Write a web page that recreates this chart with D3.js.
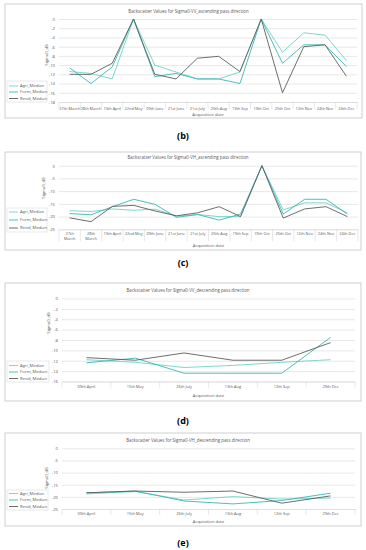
<!DOCTYPE html>
<html>
<head>
<meta charset="utf-8">
<script src="https://cdn.jsdelivr.net/npm/d3@7"></script>
<style>
  body { margin: 0; background: #fff; }
  svg { display: block; }
  text { font-family: "Open Sans", sans-serif; fill: #595959; }
</style>
</head>
<body>
<div id="figure"></div>
<script>
// Category labels
const ascDates = ["27th March", "28th March", "10th April", "22nd May", "09th June", "21st June", "21st July",
  "20th Aug", "19th Sep", "19th Oct", "25th Oct", "12th Nov", "24th Nov", "24th Dec"];
const descDates = ["09th April", "15th May", "26th July", "13th Aug", "12th Sep", "29th Dec"];

const seriesNames = ["Agri_Median", "Fores_Median", "Resid_Median"];
const seriesColors = ["#6fd3c7", "#3db6b6", "#5e5e5e"];

// (b) Sigma0-VV ascending
const vvAscAgri  = [-11.4, -11.8, -13, 0, -10, -11.5, -13, -13, -11.5, 0, -7.2, -3, -3.5, -9];
const vvAscFores = [-10.6, -14, -10.4, 0, -12.5, -11.8, -13, -13, -14, 0, -9.6, -5.6, -5.6, -10.3];
const vvAscResid = [-12, -12, -9.6, 0, -12, -13, -8.5, -8.1, -11.4, 0, -16, -6, -5.6, -12.4];

// (c) Sigma0-VH ascending
const vhAscAgri  = [-17.7, -18, -17, -17.5, -17.1, -19.8, -19.2, -20, -20, 0, -17.4, -14.6, -14.6, -18.5];
const vhAscFores = [-18.8, -19.3, -16.1, -13.2, -15.2, -20.3, -19.2, -21.4, -19, 0, -19, -13.2, -13.2, -19];
const vhAscResid = [-20.5, -22, -16, -15.6, -17.8, -19.7, -18.5, -16.1, -20, 0, -20.6, -17, -16.1, -20];

// (d) Sigma0-VV descending
const vvDescAgri  = [-11.8, -12.3, -13.3, -12.9, -12.3, -11.8];
const vvDescFores = [-12.4, -11.5, -14.4, -14.4, -14.4, -7.5];
const vvDescResid = [-11.4, -11.9, -10.5, -11.9, -11.9, -8.5];

// (e) Sigma0-VH descending
const vhDescAgri  = [-18.8, -17.8, -21.3, -19.9, -20.9, -20.5];
const vhDescFores = [-18.4, -17.6, -21.7, -22.9, -21.5, -18.5];
const vhDescResid = [-18.3, -17.6, -18.1, -17.6, -22.6, -19.6];

// y tick values
const vvAscTicks = [0, -2, -4, -6, -8, -10, -12, -14, -16, -18];
const vhTicks = [0, -5, -10, -15, -20, -25];
const vvDescTicks = [0, -2, -4, -6, -8, -10, -12, -14, -16];

// panel layout
const panels = [
  { tag: "(b)", title: "Backscatter Values for Sigma0-VV_ascending pass direction",
    dates: ascDates, series: [vvAscAgri, vvAscFores, vvAscResid], ticks: vvAscTicks,
    frame: [5, 4, 362, 118], px: [59, 357], py: [19, 102], titleY: 12, labelY: 107,
    axisTitleY: 114.5, yTitle: [47, 55], legend: [7, 81, 47, 102], legendY: [86, 92, 98.5],
    divLen: 7, tagY: 137, wrap: [] },
  { tag: "(c)", title: "Backscatter Values for Sigma0-VH_ascending pass direction",
    dates: ascDates, series: [vhAscAgri, vhAscFores, vhAscResid], ticks: vhTicks,
    frame: [5, 152, 361, 250], px: [59, 358], py: [165.7, 229.3], titleY: 158, labelY: 232,
    axisTitleY: 246, yTitle: [43.5, 188], legend: [7, 208, 47, 232], legendY: [212, 220, 228],
    divLen: 12, tagY: 264, wrap: [0, 1] },
  { tag: "(d)", title: "Backscatter Values for Sigma0-VV_descending pass direction",
    dates: descDates, series: [vvDescAgri, vvDescFores, vvDescResid], ticks: vvDescTicks,
    frame: [5, 283, 361, 401], px: [62, 355], py: [298.5, 381.5], titleY: 291, labelY: 385,
    axisTitleY: 396, yTitle: [49, 323], legend: [7, 361, 49, 382], legendY: [365.5, 372, 378.5],
    divLen: 6, tagY: 422, wrap: [] },
  { tag: "(e)", title: "Backscatter Values for Sigma0-VH_descending pass direction",
    dates: descDates, series: [vhDescAgri, vhDescFores, vhDescResid], ticks: vhTicks,
    frame: [5, 433, 361, 526], px: [62, 355], py: [448.3, 509], titleY: 441, labelY: 512.5,
    axisTitleY: 522, yTitle: [46.7, 478], legend: [7, 490, 48, 510], legendY: [493.5, 500, 506.5],
    divLen: 6, tagY: 544, wrap: [] }
];

const svg = d3.select("#figure").append("svg")
  .attr("width", 366)
  .attr("height", 550);

svg.append("rect").attr("width", 366).attr("height", 550).attr("fill", "#fff");

const fs = 4.2;
const catFs = 3.9;

panels.forEach(p => {
  const g = svg.append("g");

  // outer chart frame
  g.append("rect")
    .attr("x", p.frame[0]).attr("y", p.frame[1])
    .attr("width", p.frame[2] - p.frame[0]).attr("height", p.frame[3] - p.frame[1])
    .attr("fill", "#fff").attr("stroke", "#c3c3c3").attr("stroke-width", 0.8);

  const x = d3.scaleBand().domain(p.dates).range(p.px).padding(0);
  const y = d3.scaleLinear().domain([d3.min(p.ticks), 0]).range([p.py[1], p.py[0]]);
  const bw = x.bandwidth();

  // gridlines + y tick labels
  const yAxis = g.append("g")
    .attr("transform", `translate(${p.px[0]},0)`)
    .call(d3.axisLeft(y).tickValues(p.ticks).tickSize(-(p.px[1] - p.px[0]))
      .tickPadding(4).tickFormat(d => String(d)));
  yAxis.select(".domain").remove();
  yAxis.selectAll("line").attr("stroke", "#d9d9d9").attr("stroke-width", 0.6);
  yAxis.selectAll("text").attr("font-size", fs).attr("font-family", "Open Sans").attr("fill", "#595959");

  // category axis labels
  const xAxis = g.append("g")
    .attr("transform", `translate(0,${p.py[1]})`)
    .call(d3.axisBottom(x).tickSize(0).tickPadding(p.labelY - p.py[1]));
  xAxis.select(".domain").attr("stroke", "#d9d9d9").attr("stroke-width", 0.6);
  xAxis.selectAll("text").attr("font-size", catFs).attr("font-family", "Open Sans").attr("fill", "#595959");
  xAxis.selectAll(".tick text").each(function(d, i) {
    if (p.wrap.includes(i)) {
      const t = d3.select(this);
      const parts = d.split(" ");
      t.text(null);
      parts.forEach((w, k) => t.append("tspan").attr("x", 0).attr("dy", k === 0 ? "0.71em" : "1.3em").text(w));
      t.attr("dy", null);
    }
  });

  // category dividers
  const bounds = p.dates.map(d => x(d)).concat([x(p.dates[p.dates.length - 1]) + bw]);
  g.append("g").selectAll("line")
    .data(bounds)
    .join("line")
    .attr("x1", d => d).attr("x2", d => d)
    .attr("y1", p.py[1]).attr("y2", p.py[1] + p.divLen)
    .attr("stroke", "#d9d9d9").attr("stroke-width", 0.6);

  // series lines
  const line = d3.line()
    .x((d, i) => x(p.dates[i]) + bw / 2)
    .y(d => y(d));
  p.series.forEach((s, k) => {
    g.append("path")
      .datum(s)
      .attr("fill", "none")
      .attr("stroke", seriesColors[k])
      .attr("stroke-width", 0.9)
      .attr("stroke-linejoin", "round")
      .attr("d", line);
  });

  // chart title
  g.append("text")
    .attr("x", (p.frame[0] + p.frame[2]) / 2 + 5)
    .attr("y", p.titleY)
    .attr("text-anchor", "middle")
    .attr("dominant-baseline", "middle")
    .attr("font-size", 4.4)
    .text(p.title);

  // axis titles
  g.append("text")
    .attr("x", (p.px[0] + p.px[1]) / 2)
    .attr("y", p.axisTitleY)
    .attr("text-anchor", "middle")
    .attr("dominant-baseline", "middle")
    .attr("font-size", fs)
    .text("Acquisition date");

  g.append("text")
    .attr("transform", `translate(${p.yTitle[0]},${p.yTitle[1]}) rotate(-90)`)
    .attr("text-anchor", "middle")
    .attr("dominant-baseline", "middle")
    .attr("font-size", fs)
    .text("Sigma0_dB");

  // legend
  const lg = g.append("g");
  lg.append("rect")
    .attr("x", p.legend[0]).attr("y", p.legend[1])
    .attr("width", p.legend[2] - p.legend[0]).attr("height", p.legend[3] - p.legend[1])
    .attr("fill", "#fff").attr("stroke", "#d9d9d9").attr("stroke-width", 0.6);
  seriesNames.forEach((name, k) => {
    const ly = p.legendY[k];
    lg.append("line")
      .attr("x1", p.legend[0] + 2).attr("x2", p.legend[0] + 11)
      .attr("y1", ly).attr("y2", ly)
      .attr("stroke", seriesColors[k]).attr("stroke-width", 0.9);
    lg.append("text")
      .attr("x", p.legend[0] + 13)
      .attr("y", ly)
      .attr("dominant-baseline", "middle")
      .attr("font-size", fs)
      .text(name);
  });

  // sub-figure tag
  g.append("text")
    .attr("x", 183)
    .attr("y", p.tagY)
    .attr("text-anchor", "middle")
    .attr("dominant-baseline", "middle")
    .attr("font-family", "Liberation Serif, serif")
    .attr("font-size", 9)
    .attr("font-weight", "bold")
    .style("fill", "#000")
    .text(p.tag);
});
</script>
</body>
</html>
